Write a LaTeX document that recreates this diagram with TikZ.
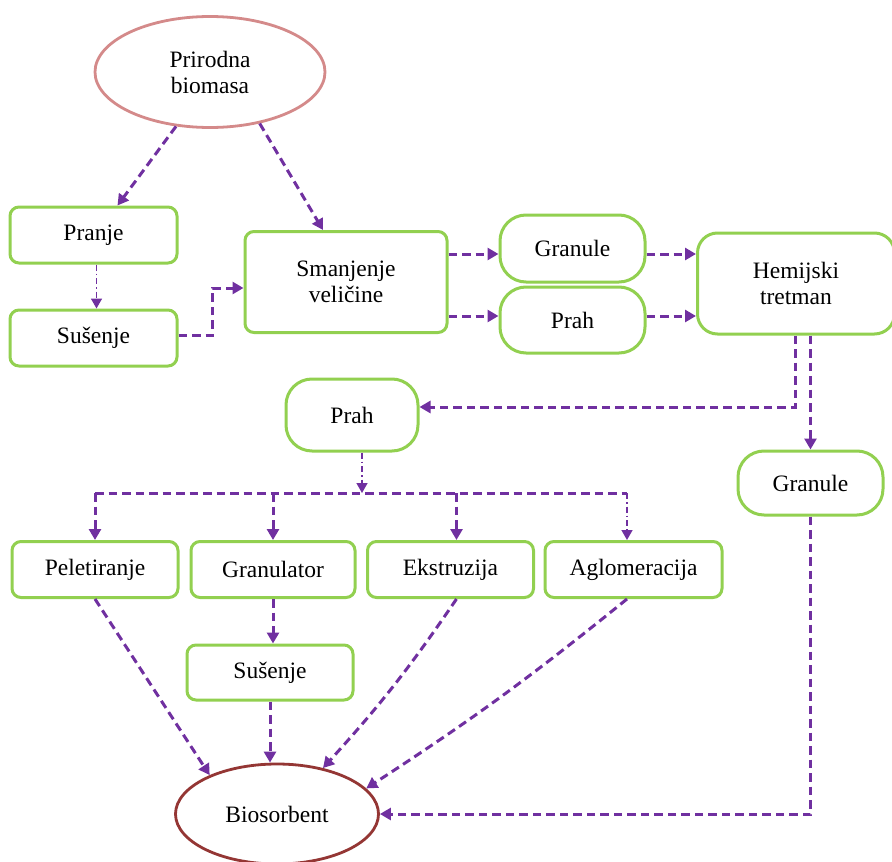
\documentclass[tikz,border=0pt]{standalone}
\usepackage{fontspec}
\setmainfont{Liberation Serif}
\usetikzlibrary{arrows.meta,shapes.geometric,calc}
\definecolor{lila}{HTML}{7030A0}
\definecolor{zel}{HTML}{92D050}
\definecolor{roza}{HTML}{D48A8A}
\definecolor{bord}{HTML}{943634}
\begin{document}
\begin{tikzpicture}[x=1pt,y=-1pt,
  every node/.style={font=\fontsize{23.5}{26}\selectfont, align=center, inner sep=0pt},
  box/.style={draw=zel, line width=3pt, rounded corners=9pt, fill=white},
  pill/.style={draw=zel, line width=3pt, rounded corners=26pt, fill=white},
  ell/.style={ellipse, line width=2.8pt, fill=white},
  arr/.style={draw=lila, line width=3pt, dash pattern=on 8.5pt off 5pt, -{Triangle[width=12pt,length=11pt]}},
  thin/.style={draw=lila, line width=1.6pt, dash pattern=on 6pt off 3pt on 1.5pt off 3pt, -{Triangle[width=11pt,length=10pt]}},
  ln/.style={draw=lila, line width=3pt, dash pattern=on 8.5pt off 5pt}]
\useasboundingbox (0,0) rectangle (892,862);
% nodes
\node[ell, draw=roza, minimum width=230pt, minimum height=111pt] (prir) at (210,72) {Prirodna\\biomasa};
\node[box, minimum width=167pt, minimum height=56pt] (pranje) at (93.5,235) {Pranje};
\node[box, minimum width=167pt, minimum height=56pt] (sus1) at (93.5,338) {Sušenje};
\node[box, minimum width=202pt, minimum height=101pt] (sman) at (346,282) {Smanjenje\\veličine};
\node[pill, minimum width=145pt, minimum height=67pt] (gran1) at (572.5,248.5) {Granule};
\node[pill, minimum width=145pt, minimum height=66pt] (prah1) at (572.5,320) {Prah};
\node[box, minimum width=197pt, minimum height=101pt, rounded corners=20pt] (hem) at (796,283.5) {Hemijski\\tretman};
\node[pill, minimum width=132pt, minimum height=72pt] (prah2) at (352,415) {Prah};
\node[pill, minimum width=145pt, minimum height=64pt] (gran2) at (810.5,483) {Granule};
\node[box, minimum width=166pt, minimum height=56pt] (pel) at (95,569.5) {Peletiranje};
\node[box, minimum width=164pt, minimum height=56pt] (granl) at (273,569.5) {Granulator};
\node[box, minimum width=166pt, minimum height=56pt] (eks) at (450.5,569.5) {Ekstruzija};
\node[box, minimum width=177pt, minimum height=56pt] (agl) at (633.5,569.5) {Aglomeracija};
\node[box, minimum width=166pt, minimum height=55pt] (sus2) at (270,672.5) {Sušenje};
\node[ell, draw=bord, minimum width=203pt, minimum height=100pt] (bio) at (277,814) {Biosorbent};
% connectors top
\draw[arr] (prir.238) -- ([xshift=24pt]pranje.north);
\draw[arr] (prir.314) -- ([xshift=-23pt]sman.north);
\draw[thin] ([xshift=3pt]pranje.south) -- ([xshift=3pt]sus1.north);
\draw[arr] ([yshift=3pt]sus1.east) -- ++(34,0) |- ([yshift=-6pt]sman.west);
\path ([yshift=-5.5pt]gran1.west) coordinate (g1w) ([yshift=-5.5pt]gran1.east) coordinate (g1e);
\path ([yshift=4pt]prah1.west) coordinate (p1w) ([yshift=4pt]prah1.east) coordinate (p1e);
\draw[arr] (g1w -| sman.east) -- (g1w);
\draw[arr] (p1w -| sman.east) -- (p1w);
\draw[arr] (g1e) -- (g1e -| hem.west);
\draw[arr] (p1e) -- (p1e -| hem.west);
\draw[arr] ([xshift=-1pt]hem.south) |- ([yshift=8pt]prah2.east);
\draw[arr] (gran2.north |- hem.south) -- (gran2.north);
% bus
\coordinate (bj) at (362,493);
\draw[thin] ([xshift=10pt]prah2.south) -- (bj);
\draw[ln] (pel.north |- bj) -- ([xshift=-6.5pt]agl.north |- bj);
\draw[arr] (pel.north |- bj) -- (pel.north);
\draw[arr] (granl.north |- bj) -- (granl.north);
\draw[arr] ([xshift=6pt]eks.north |- bj) -- ([xshift=6pt]eks.north);
\draw[thin] ([xshift=-6.5pt]agl.north |- bj) -- ([xshift=-6.5pt]agl.north);
% to biosorbent
\draw[arr] (granl.south) -- (granl.south |- sus2.north);
\draw[arr] (pel.south) -- (bio.150);
\draw[arr] (sus2.south) -- (sus2.south |- bio.north);
\draw[arr] ([xshift=6pt]eks.south) to[bend left=4] (bio.45);
\draw[arr] ([xshift=-6.5pt]agl.south) to[bend left=3] (bio.16);
\draw[arr] (gran2.south) |- (bio.east);
\end{tikzpicture}
\end{document}
